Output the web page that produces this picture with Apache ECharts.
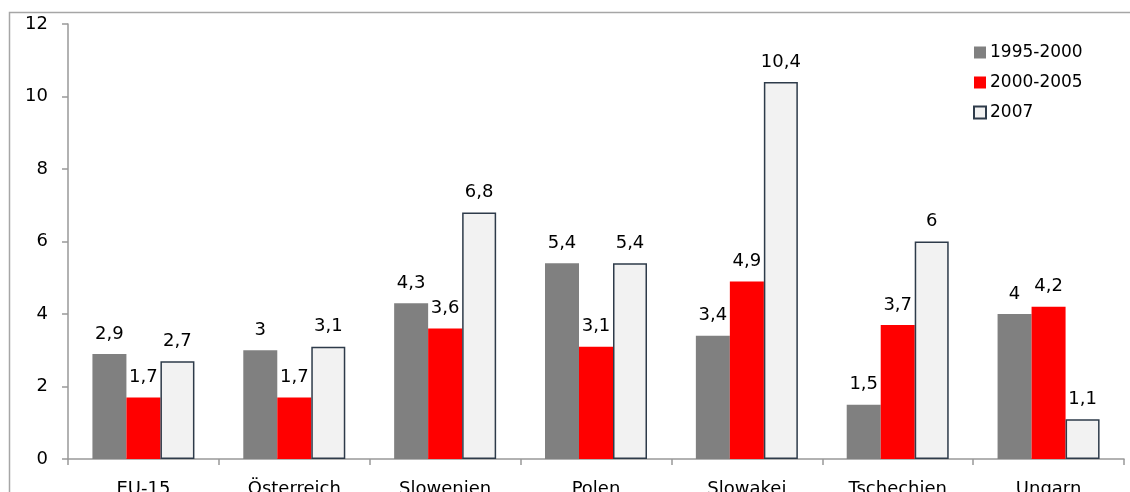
<!DOCTYPE html>
<html>
<head>
<meta charset="utf-8">
<script src="https://cdn.jsdelivr.net/npm/echarts@6/dist/echarts.min.js"></script>
<style>
  html, body { margin: 0; padding: 0; background: #fff; }
  #chart { width: 1130px; height: 492px; }
</style>
</head>
<body>
<div id="chart"></div>
<script>
// Countries and growth values per period
const categories = ['EU-15', 'Österreich', 'Slowenien', 'Polen', 'Slowakei', 'Tschechien', 'Ungarn'];
const seriesNames = ['1995-2000', '2000-2005', '2007'];
const values1995 = [2.9, 3, 4.3, 5.4, 3.4, 1.5, 4];
const values2000 = [1.7, 1.7, 3.6, 3.1, 4.9, 3.7, 4.2];
const values2007 = [2.7, 3.1, 6.8, 5.4, 10.4, 6, 1.1];
const yTicks = [0, 2, 4, 6, 8, 10, 12];

const FONT = 'DejaVu Sans';
const labelFmt = p => String(p.value).replace('.', ',');

const label = {
  show: true,
  position: 'top',
  distance: 11,
  fontFamily: FONT,
  fontSize: 18,
  color: '#000',
  formatter: labelFmt
};

const chart = echarts.init(document.getElementById('chart'));
chart.setOption({
  animation: false,
  textStyle: { fontFamily: FONT },
  graphic: [{
    type: 'rect',
    left: 7, top: 10,
    shape: { width: 1300, height: 600 },
    style: { fill: 'none', stroke: '#a6a6a6', lineWidth: 1.5 },
    silent: true, z: -1
  }],
  grid: { left: 68, right: 6, top: 24, bottom: 33, containLabel: false, outerBoundsMode: 'none' },
  legend: {
    orient: 'vertical',
    left: 968,
    top: 39,
    itemWidth: 12,
    itemHeight: 12,
    itemGap: 13,
    icon: 'rect',
    textStyle: { fontFamily: FONT, fontSize: 17, color: '#000', padding: [0, 0, 0, -1] },
    data: seriesNames
  },
  xAxis: {
    type: 'category',
    data: categories,
    axisLine: { lineStyle: { color: '#999', width: 1.5 } },
    axisTick: { show: true, length: 6, lineStyle: { color: '#999', width: 1.5 } },
    axisLabel: { fontFamily: FONT, fontSize: 18, color: '#000', margin: 21 }
  },
  yAxis: {
    type: 'value',
    min: yTicks[0],
    max: yTicks[yTicks.length - 1],
    interval: 2,
    splitLine: { show: false },
    axisLine: { show: true, lineStyle: { color: '#999', width: 1.5 } },
    axisTick: { show: true, length: 6, lineStyle: { color: '#999', width: 1.5 } },
    axisLabel: { fontFamily: FONT, fontSize: 18, color: '#000', margin: 20 }
  },
  series: [
    {
      name: seriesNames[0], type: 'bar', data: values1995,
      barWidth: 34, barGap: '0%',
      itemStyle: { color: '#808080' }, label
    },
    {
      name: seriesNames[1], type: 'bar', data: values2000,
      barWidth: 34, barGap: '0%',
      itemStyle: { color: '#ff0000' }, label
    },
    {
      name: seriesNames[2], type: 'bar', data: values2007,
      barWidth: 34, barGap: '0%',
      itemStyle: { color: '#f2f2f2', borderColor: '#2e3b4a', borderWidth: 1.5 }, label
    }
  ]
});
</script>
</body>
</html>
